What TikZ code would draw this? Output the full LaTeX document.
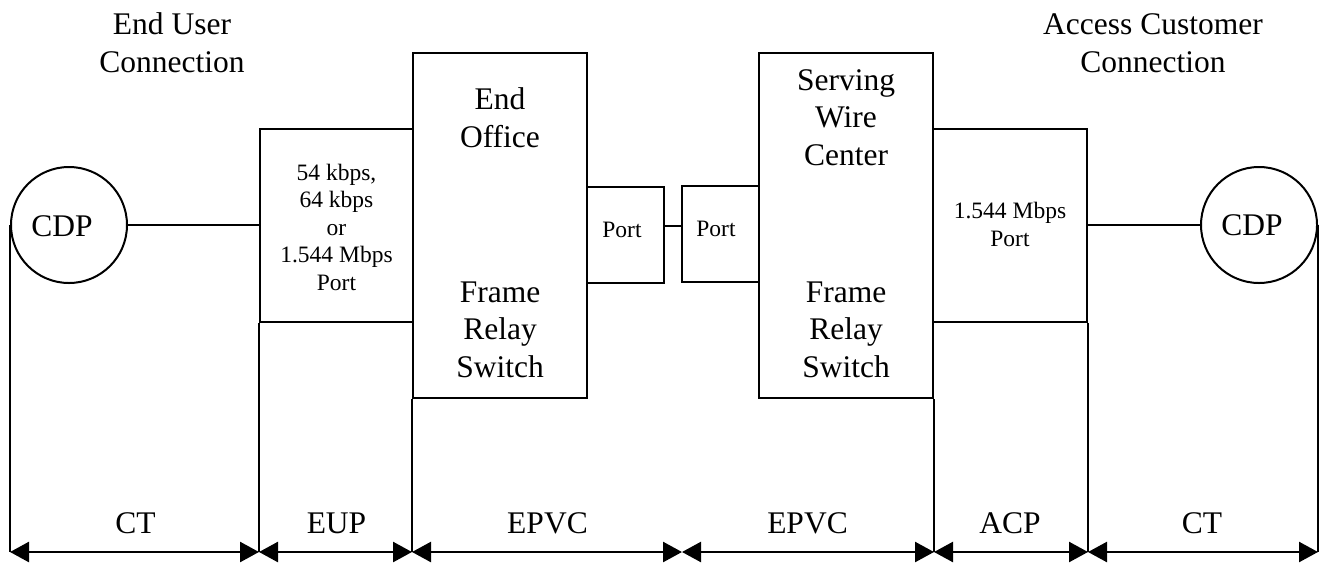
\documentclass[tikz,border=0pt]{standalone}
\usepackage{fontspec}
\setmainfont{Liberation Serif}
\usetikzlibrary{arrows.meta}
\begin{document}
\begin{tikzpicture}[x=1pt,y=-1pt,
  box/.style={draw,line width=2pt,inner sep=0pt,rectangle},
  cdp/.style={draw,circle,line width=2pt,minimum size=116pt,inner sep=0pt},
  big/.style={font=\fontsize{31.5}{37.5}\selectfont,inner sep=0pt,align=center,anchor=base},
  small/.style={font=\fontsize{23.5}{27.5}\selectfont,inner sep=0pt,align=center,anchor=base},
  wire/.style={line width=2pt},
  dimarrow/.style={line width=2.5pt,{Triangle[length=19pt,width=20pt]}-{Triangle[length=19pt,width=20pt]}},
]
\useasboundingbox[fill=white] (0,0) rectangle (1321,563);

% main shapes
\node[cdp] (cdpL) at (69,225) {};
\node[box,minimum width=153pt,minimum height=193pt] (eup) at (336.5,225.5) {};
\node[box,minimum width=174pt,minimum height=345pt] (eo) at (500,225.5) {};
\node[box,minimum width=77pt,minimum height=96pt] (p1) at (625.5,235) {};
\node[box,minimum width=77pt,minimum height=96pt] (p2) at (720.5,234) {};
\node[box,minimum width=174pt,minimum height=345pt] (swc) at (846,225.5) {};
\node[box,minimum width=154pt,minimum height=193pt] (acp) at (1010,225.5) {};
\node[cdp] (cdpR) at (1259,225) {};

% texts (base anchor = baseline of last line)
\node[big] (tl) at (172,72) {End User\\Connection};
\node[big] (tr) at (1153,72) {Access Customer\\Connection};
\node[big] (cdpLt) at (62,236) {CDP};
\node[big] (cdpRt) at (1252,235) {CDP};
\node[small] (eupt) at (336.5,290) {54 kbps,\\64 kbps\\or\\1.544 Mbps\\Port};
\node[big] (eot) at (500,147) {End\\Office};
\node[big] (eob) at (500,377) {Frame\\Relay\\Switch};
\node[small] (p1t) at (622,237) {Port};
\node[small] (p2t) at (716,236) {Port};
\node[big] (swct) at (846,165) {Serving\\Wire\\Center};
\node[big] (swcb) at (846,377) {Frame\\Relay\\Switch};
\node[small] (acpt) at (1010,246) {1.544 Mbps\\Port};

% connectors
\draw[wire] (cdpL.east) -- (eup.west |- cdpL.east);
\draw[wire] (p1.east |- eo.east) -- (p2.west |- eo.east);
\draw[wire] (acp.east |- cdpR.west) -- (cdpR.west);

% bottom dimension points
\coordinate (b0) at (cdpL.west |- 0,552);
\coordinate (b1) at (eup.west |- 0,552);
\coordinate (b2) at (eo.west |- 0,552);
\coordinate (b3) at (682,552);
\coordinate (b4) at (swc.east |- 0,552);
\coordinate (b5) at (acp.east |- 0,552);
\coordinate (b6) at (cdpR.east |- 0,552);

\draw[wire] (cdpL.west) -- (b0);
\draw[wire] (eup.south west) -- (b1);
\draw[wire] (eo.south west) -- (b2);
\draw[wire] (swc.south east) -- (b4);
\draw[wire] (acp.south east) -- (b5);
\draw[wire] (cdpR.east) -- (b6);

\draw[dimarrow] (b0) -- (b1);
\draw[dimarrow] (b1) -- (b2);
\draw[dimarrow] (b2) -- (b3);
\draw[dimarrow] (b3) -- (b4);
\draw[dimarrow] (b4) -- (b5);
\draw[dimarrow] (b5) -- (b6);

\node[big] (l1) at (135.5,533) {CT};
\node[big] (l2) at (336.5,533) {EUP};
\node[big] (l3) at (547.5,533) {EPVC};
\node[big] (l4) at (807.5,533) {EPVC};
\node[big] (l5) at (1010,533) {ACP};
\node[big] (l6) at (1202,533) {CT};
\end{tikzpicture}
\end{document}
